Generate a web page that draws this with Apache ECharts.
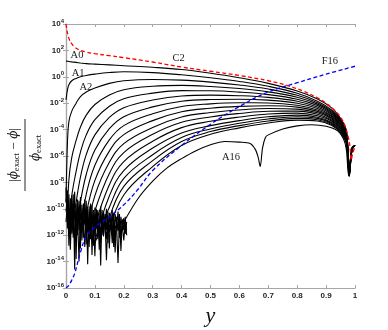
<!DOCTYPE html>
<html>
<head>
<meta charset="utf-8">
<script src="https://cdn.jsdelivr.net/npm/echarts@6/dist/echarts.min.js"></script>
<style>html,body{margin:0;padding:0;background:#fff}#chart{width:388px;height:330px}</style>
</head>
<body>
<div id="chart"></div>
<script>
// 相对误差曲线, 数值为 log10(误差)
let xs = [0, 0.005, 0.01, 0.02, 0.035, 0.05, 0.07, 0.1, 0.15, 0.2, 0.3, 0.4, 0.5, 0.6, 0.7, 0.8, 0.87, 0.92, 0.95, 0.97, 0.98, 0.99, 1];
let A0 = [1.2, 1.18, 1.16, 1.13, 1.09, 1.05, 1.0, 0.96, 0.9, 0.84, 0.72, 0.55, 0.27, -0.07, -0.5, -1.08, -1.68, -2.37, -3.15, -4.05, -6.9, -5.35, -5.2];
let A1 = [-1.75, -1.0, -0.6, -0.3, -0.12, 0.0, 0.1, 0.2, 0.32, 0.38, 0.32, 0.15, -0.07, -0.35, -0.72, -1.25, -1.85, -2.52, -3.2, -4.1, -6.95, -5.35, -5.2];
let A2 = [-9.5, -5.0, -3.4, -2.6, -2.0, -1.5, -1.15, -0.85, -0.5, -0.3, -0.2, -0.25, -0.4, -0.62, -0.93, -1.4, -1.96, -2.6, -3.28, -4.17, -7.0, -5.4, -5.2];
let A3 = [null, -10.6, -7.8, -6.1, -4.82, -3.8, -2.9, -2.1, -1.38, -0.98, -0.72, -0.65, -0.73, -0.89, -1.14, -1.55, -2.07, -2.69, -3.35, -4.24, -7.05, -5.4, -5.2];
let A4 = [null, null, -11.4, -9.0, -7.17, -5.7, -4.4, -3.25, -2.23, -1.66, -1.24, -1.05, -1.06, -1.16, -1.35, -1.7, -2.18, -2.78, -3.43, -4.31, -7.1, -5.4, -5.2];
let A5 = [null, null, null, -11.9, -9.52, -7.6, -5.9, -4.4, -3.08, -2.34, -1.76, -1.45, -1.39, -1.43, -1.56, -1.85, -2.29, -2.86, -3.5, -4.38, -7.15, -5.4, -5.2];
let A6 = [null, null, null, null, -11.87, -9.5, -7.4, -5.55, -3.93, -3.02, -2.28, -1.85, -1.72, -1.7, -1.77, -2.0, -2.4, -2.95, -3.58, -4.45, -7.2, -5.45, -5.2];
let A7 = [null, null, null, null, null, -11.4, -8.9, -6.7, -4.78, -3.7, -2.8, -2.25, -2.05, -1.97, -1.98, -2.15, -2.51, -3.03, -3.65, -4.52, -7.25, -5.45, -5.2];
let A8 = [null, null, null, null, null, null, -10.4, -7.85, -5.63, -4.38, -3.32, -2.65, -2.38, -2.24, -2.19, -2.3, -2.62, -3.12, -3.73, -4.59, -7.3, -5.45, -5.2];
let A9 = [null, null, null, null, null, null, -11.9, -9.0, -6.48, -5.06, -3.84, -3.05, -2.71, -2.51, -2.4, -2.45, -2.73, -3.2, -3.8, -4.66, -7.3, -5.45, -5.2];
let A10 = [null, null, null, null, null, null, null, -10.15, -7.33, -5.74, -4.36, -3.45, -3.04, -2.78, -2.61, -2.6, -2.84, -3.29, -3.88, -4.73, -7.35, -5.5, -5.2];
let A11 = [null, null, null, null, null, null, null, -11.3, -8.18, -6.42, -4.88, -3.85, -3.37, -3.05, -2.82, -2.75, -2.95, -3.37, -3.95, -4.8, -7.4, -5.5, -5.2];
let A12 = [null, null, null, null, null, null, null, -12.45, -9.03, -7.1, -5.4, -4.25, -3.7, -3.32, -3.03, -2.9, -3.06, -3.46, -4.03, -4.87, -7.4, -5.5, -5.2];
let A13 = [null, null, null, null, null, null, null, -12.6, -9.88, -7.7, -5.9, -4.6, -3.95, -3.52, -3.2, -3.03, -3.15, -3.53, -4.1, -4.94, -7.45, -5.5, -5.2];
let A14 = [null, null, null, null, null, null, null, null, -10.73, -8.3, -6.35, -4.9, -4.15, -3.7, -3.35, -3.15, -3.25, -3.61, -4.18, -5.01, -7.5, -5.5, -5.2];
let A15 = [null, null, null, null, null, null, null, null, -11.58, -8.95, -6.8, -5.2, -4.35, -3.87, -3.5, -3.28, -3.35, -3.69, -4.25, -5.08, -7.55, -5.5, -5.2];

let a16X = [0.2, 0.25, 0.3, 0.35, 0.4, 0.45, 0.5, 0.55, 0.6, 0.637, 0.655, 0.665, 0.672, 0.68, 0.69, 0.7, 0.75, 0.8, 0.85, 0.9, 0.94, 0.96, 0.97, 0.978, 0.99, 1];
let A16 = [-11.0, -9.2, -7.9, -6.9, -6.2, -5.6, -5.15, -4.9, -4.95, -5.05, -5.5, -6.1, -6.8, -5.4, -4.6, -4.4, -3.95, -3.72, -3.63, -3.75, -4.1, -4.7, -5.5, -7.5, -5.5, -5.2];

let redX = [0, 0.003, 0.007, 0.012, 0.02, 0.03, 0.045, 0.07, 0.1, 0.15, 0.2, 0.3, 0.4, 0.5, 0.6, 0.7, 0.76, 0.82, 0.87, 0.9, 0.93, 0.95, 0.965, 0.977, 0.983, 0.987, 0.992, 1];
let C2 = [4.0, 3.55, 3.15, 2.8, 2.5, 2.25, 2.05, 1.88, 1.75, 1.6, 1.45, 1.12, 0.74, 0.42, 0.1, -0.3, -0.62, -1.08, -1.6, -2.0, -2.55, -3.05, -3.7, -4.6, -5.4, -6.3, -5.8, -5.3];

let blueX = [0, 0.005, 0.01, 0.02, 0.03, 0.05, 0.07, 0.1, 0.15, 0.2, 0.25, 0.3, 0.4, 0.5, 0.6, 0.7, 0.8, 0.9, 1];
let F16 = [-16, -15.9, -15.8, -15.4, -14.9, -13.3, -12.1, -11.4, -10.6, -9.7, -8.5, -7.1, -5.2, -3.6, -2.25, -1.15, -0.45, 0.2, 0.8];

// 舍入噪声带
let noiseX = [0,0.005,0.01,0.015,0.02,0.025,0.03,0.035,0.04,0.045,0.05,0.055,0.06,0.065,0.07,0.075,0.08,0.085,0.09,0.095,0.1,0.105,0.11,0.115,0.12,0.125,0.13,0.135,0.14,0.145,0.15,0.155,0.16,0.165,0.17,0.175,0.18,0.185,0.19,0.195,0.2,0.205,0.21];
let noise1 = [-8.4, -11.5, -8.9, -12.3, -9.0, -11.0, -8.7, -13.8, -9.3, -11.6,
    -9.1, -12.4, -9.6, -11.2, -9.4, -14.2, -9.8, -11.9, -9.7, -12.8,
    -9.9, -11.5, -10.1, -13.1, -9.8, -12.0, -10.2, -11.4, -10.0, -12.6,
    -10.3, -11.6, -10.1, -12.9, -10.4, -11.3, -10.2, -12.2, -10.6, -11.5,
    -10.7, -11.9, -11.0];
let noise2 = [-9.5, -8.6, -12.8, -9.2, -11.8, -8.9, -14.6, -9.6, -12.0, -9.4,
    -13.0, -9.7, -11.4, -9.3, -12.7, -10.0, -11.7, -9.6, -13.5, -10.1,
    -11.8, -10.0, -12.3, -10.3, -14.3, -10.1, -12.1, -10.4, -11.6, -10.2,
    -13.0, -10.5, -11.9, -10.3, -12.5, -10.6, -11.7, -10.4, -13.2, -10.8,
    -11.6, -10.6, -12.0];
let noise3 = [-10.2, -9.1, -10.8, -13.1, -9.9, -12.2, -10.1, -11.4, -10.6, -14.0,
    -10.3, -11.1, -10.9, -12.9, -10.2, -11.8, -10.7, -12.3, -10.5, -11.0,
    -13.6, -10.4, -11.7, -10.8, -12.4, -10.6, -11.3, -11.0, -13.9, -10.7,
    -11.8, -11.1, -12.6, -10.9, -11.5, -11.2, -14.1, -11.0, -12.0, -11.3,
    -12.4, -11.1, -11.6];
let noise4 = [-11.0, -9.8, -12.0, -10.4, -11.3, -9.6, -12.5, -10.2, -11.1, -9.9,
    -11.9, -10.5, -12.2, -10.0, -11.4, -10.8, -12.9, -10.3, -11.2, -10.9,
    -12.1, -10.6, -11.4, -11.0, -12.6, -10.7, -11.9, -10.9, -12.3, -11.1,
    -11.4, -10.8, -12.0, -11.2, -13.3, -10.9, -11.6, -11.3, -12.1, -11.0,
    -11.5, -11.4, -11.8];

// 曲线标注
let labelNames = ['A0', 'A1', 'A2', 'C2', 'F16', 'A16'];
let labelX = [0.038, 0.042, 0.069, 0.39, 0.913, 0.571];
let labelExp = [1.65, 0.29, -0.77, 1.42, 1.2, -6.08];

function pts(xArr, eArr) {
    let out = [];
    for (let i = 0; i < xArr.length; i++) {
        if (eArr[i] === null || eArr[i] === undefined) continue;
        out.push([xArr[i], Math.pow(10, eArr[i])]);
    }
    return out;
}

let chart = echarts.init(document.getElementById('chart'));
let series = [];
[noise1, noise2, noise3, noise4].forEach(function (n) {
    series.push({type: 'line', data: pts(noiseX, n), showSymbol: false, silent: true,
        lineStyle: {color: '#000', width: 1.1}});
});
let blacks = [A0, A1, A2, A3, A4, A5, A6, A7, A8, A9, A10, A11, A12, A13, A14, A15];
blacks.forEach(function (a) {
    series.push({type: 'line', data: pts(xs, a), showSymbol: false, silent: true,
        smooth: 0.4, lineStyle: {color: '#000', width: 1.1}});
});
series.push({type: 'line', data: pts(a16X, A16), showSymbol: false, silent: true,
    smooth: 0.3, lineStyle: {color: '#000', width: 1.1}});
series.push({type: 'line', data: pts(redX, C2), showSymbol: false, silent: true,
    smooth: 0.4, lineStyle: {color: '#ff0000', width: 1.3, type: [4, 2.5]}});
series.push({type: 'line', data: pts(blueX, F16), showSymbol: false, silent: true,
    smooth: 0.4, lineStyle: {color: '#0000ff', width: 1.3, type: [4, 2.5]}});

let axisGray = '#a6a6a6';
let labelFont = {color: '#262626', fontSize: 8, fontWeight: 'bold', fontFamily: 'Liberation Sans'};

let option = {
    animation: false,
    grid: {left: 66, right: 33, top: 24, bottom: 42, outerBoundsMode: 'none'},
    xAxis: [{
        type: 'value', min: 0, max: 1, interval: 0.1,
        axisLine: {lineStyle: {color: axisGray, width: 1.2}},
        axisTick: {inside: true, length: 3, lineStyle: {color: axisGray}},
        splitLine: {show: false},
        axisLabel: Object.assign({margin: 4, formatter: function (v) { return String(Math.round(v * 10) / 10); }}, labelFont),
        name: 'y', nameLocation: 'middle', nameGap: 12,
        nameTextStyle: {fontFamily: 'Liberation Serif', fontStyle: 'italic', fontSize: 22, color: '#111'}
    }, {
        type: 'value', position: 'top', min: 0, max: 1, interval: 0.1,
        axisLine: {lineStyle: {color: axisGray, width: 1.2}},
        axisTick: {inside: true, length: 3, lineStyle: {color: axisGray}},
        splitLine: {show: false}, axisLabel: {show: false}
    }],
    yAxis: [{
        type: 'log', logBase: 10, min: 1e-16, max: 1e4, interval: 2,
        axisLine: {show: true, lineStyle: {color: axisGray, width: 1.2}},
        axisTick: {show: true, inside: true, length: 3, lineStyle: {color: axisGray}},
        splitLine: {show: false}, minorTick: {show: false},
        axisLabel: {
            margin: 2,
            formatter: function (v) { return '{b|10}{s|' + Math.round(Math.log10(v)) + '}'; },
            rich: {
                b: {fontSize: 8, fontWeight: 'bold', color: '#262626', fontFamily: 'Liberation Sans'},
                s: {fontSize: 6, fontWeight: 'bold', color: '#262626', fontFamily: 'Liberation Sans', padding: [0, 0, 6, 0]}
            }
        }
    }, {
        type: 'log', logBase: 10, min: 1e-16, max: 1e4, interval: 2, position: 'right',
        axisLine: {show: true, lineStyle: {color: axisGray, width: 1.2}},
        axisTick: {show: true, inside: true, length: 3, lineStyle: {color: axisGray}},
        splitLine: {show: false}, axisLabel: {show: false}
    }],
    series: series
};
chart.setOption(option);

// 标注与纵轴标题
let graphics = [];
for (let i = 0; i < labelNames.length; i++) {
    let p = chart.convertToPixel({xAxisIndex: 0, yAxisIndex: 0}, [labelX[i], Math.pow(10, labelExp[i])]);
    graphics.push({type: 'text', x: p[0], y: p[1], silent: true,
        style: {text: labelNames[i], fontFamily: 'Liberation Serif', fontSize: 10.5, fill: '#222',
            align: 'center', verticalAlign: 'middle'}});
}
let phiRich = {
    i: {fontFamily: 'DejaVu Serif', fontStyle: 'italic', fontSize: 12, fill: '#111'},
    s: {fontFamily: 'Liberation Serif', fontSize: 8.5, fill: '#111', padding: [6, 0, 0, 0]},
    n: {fontFamily: 'Liberation Serif', fontSize: 13.5, fill: '#111'}
};
graphics.push({
    type: 'group', x: 25, y: 155, rotation: Math.PI / 2, silent: true,
    children: [
        {type: 'text', x: 0, y: -11, style: {text: '{n||}{i|ϕ}{s|exact}{n| − }{i|ϕ}{n||}', rich: phiRich,
            align: 'center', verticalAlign: 'middle'}},
        {type: 'line', shape: {x1: -36, y1: 0, x2: 36, y2: 0}, style: {stroke: '#111', lineWidth: 0.9}},
        {type: 'text', x: 7, y: 11, style: {text: '{i|ϕ}{s|exact}', rich: phiRich,
            align: 'center', verticalAlign: 'middle'}}
    ]
});
chart.setOption({graphic: graphics});
</script>
</body>
</html>
